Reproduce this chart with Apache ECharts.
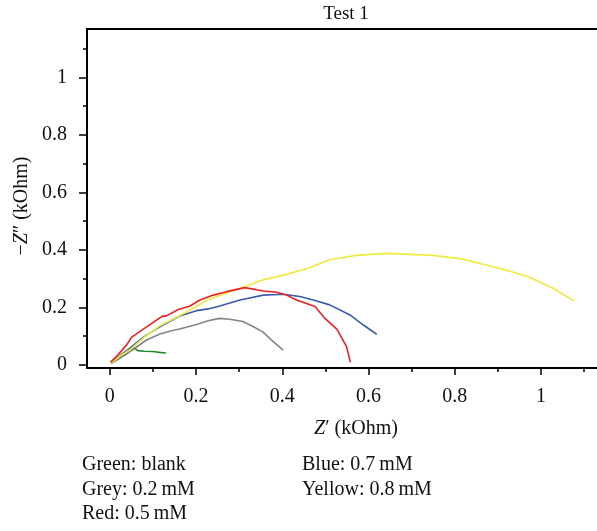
<!DOCTYPE html>
<html><head><meta charset="utf-8">
<script src="https://cdn.jsdelivr.net/npm/echarts@6/dist/echarts.min.js"></script>
<style>html,body{margin:0;padding:0;background:#fff}#c{width:597px;height:531px}</style>
</head><body><div id="c"></div>
<script>
const greenData = [[0.003,0.007],[0.02,0.022],[0.04,0.04],[0.055,0.06],[0.065,0.05],[0.08,0.048],[0.1,0.047],[0.115,0.044],[0.13,0.042]];
const greyData = [[0.002,0.004],[0.023,0.023],[0.054,0.054],[0.085,0.087],[0.116,0.108],[0.143,0.119],[0.162,0.125],[0.201,0.141],[0.228,0.154],[0.254,0.162],[0.278,0.159],[0.309,0.151],[0.333,0.133],[0.354,0.116],[0.379,0.081],[0.402,0.052]];
const redData = [[0.002,0.01],[0.015,0.029],[0.039,0.07],[0.05,0.096],[0.081,0.128],[0.122,0.17],[0.13,0.17],[0.159,0.193],[0.186,0.205],[0.209,0.226],[0.24,0.243],[0.271,0.255],[0.313,0.269],[0.356,0.257],[0.387,0.253],[0.41,0.243],[0.433,0.226],[0.476,0.203],[0.499,0.162],[0.527,0.124],[0.549,0.064],[0.558,0.009]];
const blueData = [[0.002,0.01],[0.046,0.058],[0.077,0.096],[0.116,0.133],[0.162,0.17],[0.201,0.189],[0.228,0.195],[0.255,0.205],[0.302,0.226],[0.356,0.243],[0.402,0.246],[0.441,0.238],[0.472,0.226],[0.51,0.209],[0.557,0.174],[0.588,0.139],[0.619,0.107]];
const yellowData = [[0.002,0.006],[0.023,0.031],[0.046,0.052],[0.077,0.093],[0.116,0.136],[0.155,0.166],[0.186,0.191],[0.224,0.224],[0.263,0.246],[0.309,0.27],[0.356,0.296],[0.41,0.315],[0.464,0.338],[0.507,0.365],[0.572,0.381],[0.642,0.388],[0.75,0.381],[0.816,0.369],[0.866,0.35],[0.924,0.328],[0.971,0.307],[1.028,0.267],[1.077,0.223]];
const xTicks = [0,0.2,0.4,0.6,0.8,1];
const xMinor = [0.1,0.3,0.5,0.7,0.9,1.1];
const yTicks = [0,0.2,0.4,0.6,0.8,1];
const yMinor = [0.1,0.3,0.5,0.7,0.9,1.1];
const legendLines = [["Green: blank","Blue: 0.7\u2009mM"],["Grey: 0.2\u2009mM","Yellow: 0.8\u2009mM"],["Red: 0.5\u2009mM",""]];

const FONT = '"Liberation Serif", "DejaVu Serif", serif';
const XMIN=-0.053, XMAX=1.13, YMIN=-0.0104, YMAX=1.168;
const blk = '#000';
const chart = echarts.init(document.getElementById('c'));
const mkLine = (d,c)=>({type:'line',data:d,xAxisIndex:0,yAxisIndex:0,symbol:'none',lineStyle:{color:c,width:1.6},animation:false,z:5});
const graphics = [];
legendLines.forEach((row,i)=>{
  row.forEach((t,j)=>{ if(!t) return;
    graphics.push({type:'text',x:j===0?82:302,y:465+i*24.5,style:{text:t,font:'20px '+FONT,fill:'#111',verticalAlign:'middle'}});
  });
});
graphics.push({type:'text',x:22,y:206,rotation:Math.PI/2,style:{
  text:'\u2212{i|Z}\u2033 (kOhm)',font:'20px '+FONT,fill:'#111',align:'center',verticalAlign:'middle',
  rich:{i:{fontStyle:'italic',fontFamily:FONT,fontSize:20}}}});
graphics.push({type:'text',x:356,y:429,style:{
  text:'{i|Z}\u2032 (kOhm)',font:'20px '+FONT,fill:'#111',align:'center',verticalAlign:'middle',
  rich:{i:{fontStyle:'italic',fontFamily:FONT,fontSize:20}}}});
graphics.push({type:'text',x:346,y:14,style:{text:'Test 1',font:'19px '+FONT,fill:'#111',align:'center',verticalAlign:'middle'}});

chart.setOption({
  animation:false,
  grid:{left:87,top:29,right:0,bottom:163},
  xAxis:[
    {type:'value',position:'bottom',min:XMIN,max:XMAX,splitLine:{show:false},
     axisLine:{show:true,onZero:false,lineStyle:{color:blk,width:2}},
     axisTick:{show:true,customValues:xTicks,length:7,lineStyle:{color:blk,width:1.5}},
     axisLabel:{customValues:xTicks,formatter:v=>String(v),margin:19,fontFamily:FONT,fontSize:20,color:'#111'}},
    {type:'value',position:'bottom',min:XMIN,max:XMAX,splitLine:{show:false},
     axisLine:{show:false,onZero:false},
     axisTick:{show:true,customValues:xMinor,length:4,lineStyle:{color:blk,width:1.5}},
     axisLabel:{show:false}},
    {type:'value',position:'top',min:XMIN,max:XMAX,splitLine:{show:false},
     axisLine:{show:true,onZero:false,lineStyle:{color:blk,width:2}},
     axisTick:{show:false},axisLabel:{show:false}}
  ],
  yAxis:[
    {type:'value',position:'left',min:YMIN,max:YMAX,splitLine:{show:false},
     axisLine:{show:true,onZero:false,lineStyle:{color:blk,width:2}},
     axisTick:{show:true,customValues:yTicks,length:8,lineStyle:{color:blk,width:1.5}},
     axisLabel:{customValues:yTicks,formatter:v=>String(v),margin:20,fontFamily:FONT,fontSize:20,color:'#111'}},
    {type:'value',position:'left',min:YMIN,max:YMAX,splitLine:{show:false},
     axisLine:{show:false,onZero:false},
     axisTick:{show:true,customValues:yMinor,length:4,lineStyle:{color:blk,width:1.5}},
     axisLabel:{show:false}}
  ],
  series:[
    mkLine(greenData,'#1e8a2e'),
    mkLine(greyData,'#858585'),
    mkLine(blueData,'#3a5bb0'),
    mkLine(yellowData,'#eeea40'),
    mkLine(redData,'#ee2020')
  ],
  graphic:graphics
});
</script></body></html>
